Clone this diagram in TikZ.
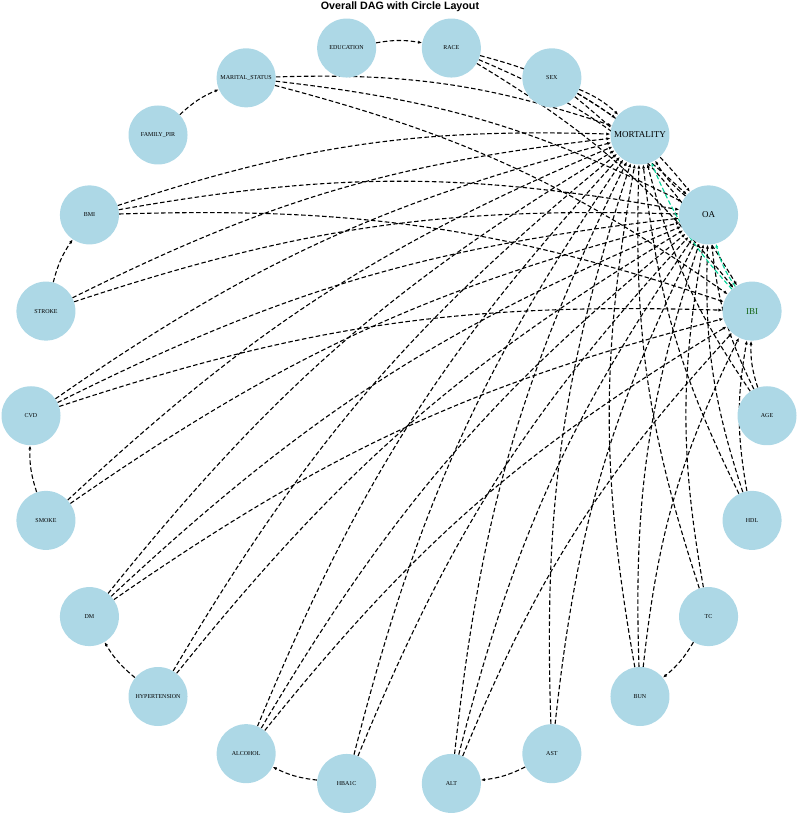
\documentclass[tikz,border=0pt]{standalone}
\usepackage{fontspec}
\setmainfont{Liberation Serif}
\newfontfamily\titlefont{Liberation Sans}
\usetikzlibrary{arrows.meta,backgrounds}
\definecolor{nodeblue}{RGB}{173,216,230}
\definecolor{ibigreen}{RGB}{0,210,150}
\definecolor{ibitext}{RGB}{20,100,20}
\begin{document}
\begin{tikzpicture}[x=1pt, y=1pt,
    var/.style={circle, fill=nodeblue, minimum size=59pt, inner sep=0pt, font=\fontsize{6}{7}\selectfont},
    outvar/.style={var, font=\fontsize{9}{10}\selectfont},
    ibivar/.style={outvar, text=ibitext},
    edge/.style={line width=1.1pt, dash pattern=on 4.5pt off 2.5pt, -{Latex[length=4pt,width=3.2pt]}, bend left=10},
    medge/.style={edge, draw=ibigreen}]
    \useasboundingbox (0, 0) rectangle (798, 815);
    \node[anchor=base, inner sep=0pt, font=\titlefont\bfseries\fontsize{10.7}{12}\selectfont] (title) at (400, 805) {Overall DAG with Circle Layout};
    % variables on the circle
    \foreach \n/\lbl/\s [count=\i from 0] in {age/AGE/var, ibi/IBI/ibivar, oa/OA/outvar, mort/MORTALITY/outvar,
        sex/SEX/var, race/RACE/var, edu/EDUCATION/var, marital/MARITAL\_STATUS/var, pir/FAMILY\_PIR/var,
        bmi/BMI/var, stroke/STROKE/var, cvd/CVD/var, smoke/SMOKE/var, dm/DM/var, htn/HYPERTENSION/var,
        alcohol/ALCOHOL/var, hba/HBA1C/var, alt/ALT/var, ast/AST/var, bun/BUN/var, tc/TC/var, hdl/HDL/var}
        \node[\s] (\n) at ({399+368*cos(\i*360/22)}, {399.25+371.5*sin(\i*360/22)}) {\lbl};
    \begin{scope}[on background layer]
        % covariates into the three outcomes
        \foreach \a in {sex, race, marital, bmi, cvd, dm, alcohol, alt, bun, hdl, age}
            \foreach \b in {mort, oa, ibi}
                \draw[edge] (\a) to (\b);
        \foreach \a in {stroke, smoke, htn, hba, ast, tc}
            \foreach \b in {mort, oa}
                \draw[edge] (\a) to (\b);
        % pairs of covariates
        \foreach \a/\b in {edu/race, pir/marital, stroke/bmi, smoke/cvd, htn/dm, hba/alcohol, ast/alt, tc/bun}
            \draw[edge] (\a) to (\b);
        \draw[edge] (oa) to (mort);
        \draw[medge] (ibi) to (oa);
        \draw[medge] (ibi) to (mort);
    \end{scope}
\end{tikzpicture}
\end{document}
